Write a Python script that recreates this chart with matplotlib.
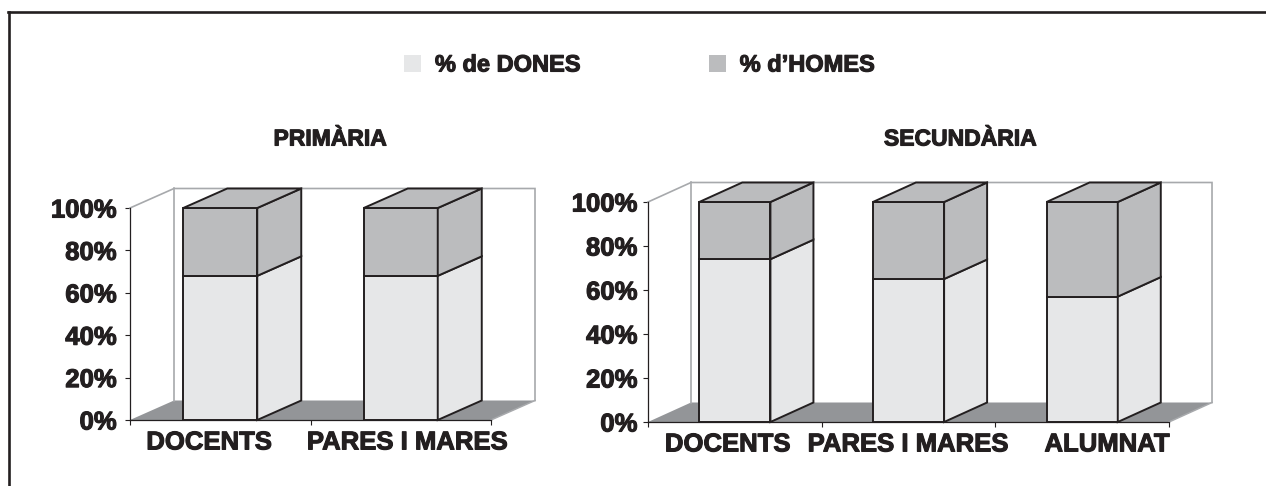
import matplotlib
matplotlib.use('Agg')
import matplotlib.pyplot as plt
import matplotlib.patheffects as pe
from matplotlib.patches import Polygon, Patch
from matplotlib.lines import Line2D
from matplotlib.text import Text

plt.rcParams['font.family'] = ['Liberation Sans', 'DejaVu Sans']

# Dades
legend_labels = ['% de DONES', '% d\u2019HOMES']

primaria_title = 'PRIMÀRIA'
primaria_categories = ['DOCENTS', 'PARES I MARES']
primaria_dones = [68, 68]
primaria_homes = [32, 32]

secundaria_title = 'SECUNDÀRIA'
secundaria_categories = ['DOCENTS', 'PARES I MARES', 'ALUMNAT']
secundaria_dones = [74, 65, 57]
secundaria_homes = [26, 35, 43]

y_ticks = [0, 20, 40, 60, 80, 100]

# Estil
TEXT = '#231f20'
EDGE = '#231f20'
WOMEN_COLOR = '#e6e7e8'
MEN_COLOR = '#bbbcbe'
FLOOR_COLOR = '#939598'
WALL_COLOR = '#a7a9ac'
BAR_WIDTH = 0.41
W, H = 1266, 486


def place(ax, box, origin, unit):
    """Place l'eix en píxels: box=(left, top, right, bottom), origin=píxel del (0, 0)."""
    left, top, right, bottom = box
    ox, oy = origin
    ux, uy = unit
    ax.set_position([left / W, 1 - bottom / H, (right - left) / W, (bottom - top) / H])
    ax.set_xlim((left - ox) / ux, (right - ox) / ux)
    ax.set_ylim((oy - bottom) / uy, (oy - top) / uy)
    return ux, uy


def draw_panel(ax, categories, dones, homes, depth, label_shift, tick_pad):
    n = len(categories)
    dx, dy = depth
    x = [i + 0.5 for i in range(n)]

    # terra i parets
    ax.add_patch(Polygon([(0, 0), (n, 0), (n + dx, dy), (dx, dy)], closed=True,
                         facecolor=FLOOR_COLOR, edgecolor='none', zorder=1))
    ax.plot([n, n + dx], [0, dy], color=WALL_COLOR, lw=1.1, zorder=2)
    ax.plot([0, dx, n + dx, n + dx], [100, 100 + dy, 100 + dy, dy],
            color=WALL_COLOR, lw=1.2, zorder=2, solid_joinstyle='miter')
    ax.plot([dx, dx], [dy, 100 + dy], color=WALL_COLOR, lw=1.2, zorder=2)

    # barres (cara frontal)
    ax.bar(x, dones, BAR_WIDTH, color=WOMEN_COLOR, edgecolor=EDGE, linewidth=1.4, zorder=3)
    ax.bar(x, homes, BAR_WIDTH, bottom=dones, color=MEN_COLOR, edgecolor=EDGE,
           linewidth=1.4, zorder=3)

    # cares laterals i superiors
    for xc, d, h in zip(x, dones, homes):
        x0, x1 = xc - BAR_WIDTH / 2, xc + BAR_WIDTH / 2
        for b, t, c in ((0, d, WOMEN_COLOR), (d, d + h, MEN_COLOR)):
            ax.add_patch(Polygon([(x1, b), (x1 + dx, b + dy), (x1 + dx, t + dy), (x1, t)],
                                 closed=True, facecolor=c, edgecolor=EDGE, lw=1.4,
                                 zorder=3, joinstyle='miter'))
        t = d + h
        ax.add_patch(Polygon([(x0, t), (x1, t), (x1 + dx, t + dy), (x0 + dx, t + dy)],
                             closed=True, facecolor=MEN_COLOR, edgecolor=EDGE, lw=1.4,
                             zorder=3, joinstyle='miter'))

    # eixos
    for s in ('top', 'right'):
        ax.spines[s].set_visible(False)
    ax.spines['left'].set_position(('data', 0))
    ax.spines['left'].set_bounds(0, 100)
    ax.spines['bottom'].set_position(('data', 0))
    ax.spines['bottom'].set_bounds(0, n)
    for s in ('left', 'bottom'):
        ax.spines[s].set_color(EDGE)
        ax.spines[s].set_linewidth(0.9)
    ax.set_yticks(y_ticks, [f'{v}%' for v in y_ticks])
    ax.set_xticks(range(n + 1), [''] * (n + 1))
    ax.tick_params(axis='both', direction='out', length=3.6, width=0.8, color=EDGE)
    ax.tick_params(axis='y', pad=tick_pad, labelsize=18.5, labelcolor=TEXT)
    for lab in ax.get_yticklabels():
        lab.set_fontweight('bold')
    for xc, lab, shift in zip(x, categories, label_shift):
        ax.annotate(lab, xy=(xc, 0), xycoords='data', xytext=(shift * 0.72, -7.5),
                    textcoords='offset points', ha='center', va='top',
                    fontsize=18.5, fontweight='bold', color=TEXT)
    ax.patch.set_visible(False)


fig = plt.figure(figsize=(W / 100, H / 100), dpi=100)
fig.patch.set_facecolor('white')

ax1 = fig.add_axes([0, 0, 1, 1])
ux, uy = place(ax1, (118, 180, 545, 426), (130, 420), (180.5, 2.12))
draw_panel(ax1, primaria_categories, primaria_dones, primaria_homes,
           (44 / ux, 19.5 / uy), [-11, 7], 6.0)

ax2 = fig.add_axes([0, 0, 1, 1])
ux, uy = place(ax2, (636, 175, 1222, 428), (648, 422), (173.67, 2.2))
draw_panel(ax2, secundaria_categories, secundaria_dones, secundaria_homes,
           (43 / ux, 19.5 / uy), [-7, 0, 25], 4.0)

# títols
fig.text(330 / W, 1 - 139 / H, primaria_title, ha='center', va='center',
         fontsize=16.5, fontweight='bold', color=TEXT)
fig.text(960 / W, 1 - 139 / H, secundaria_title, ha='center', va='center',
         fontsize=16.5, fontweight='bold', color=TEXT)

# llegenda
handles = [Patch(facecolor=WOMEN_COLOR, edgecolor='none'),
           Patch(facecolor=MEN_COLOR, edgecolor='none')]
fig.legend(handles, legend_labels, loc='center left', bbox_to_anchor=(404 / W, 1 - 65 / H),
           ncol=2, frameon=False, prop={'size': 17, 'weight': 'bold'}, labelcolor=TEXT,
           handlelength=0.72, handleheight=0.72, handletextpad=0.59, columnspacing=5.42,
           borderpad=0, borderaxespad=0)

# marc
fig.add_artist(Line2D([8 / W, 1], [1 - 12 / H, 1 - 12 / H], color=EDGE, lw=1.9,
                      transform=fig.transFigure))
fig.add_artist(Line2D([9 / W, 9 / W], [1 - 12 / H, 0], color=EDGE, lw=1.9,
                      transform=fig.transFigure))

# text una mica més gruixut, com a l'original
for txt in fig.findobj(Text):
    txt.set_path_effects([pe.withStroke(linewidth=0.8, foreground=TEXT)])

fig.savefig('out.png', dpi=100, facecolor='white')
